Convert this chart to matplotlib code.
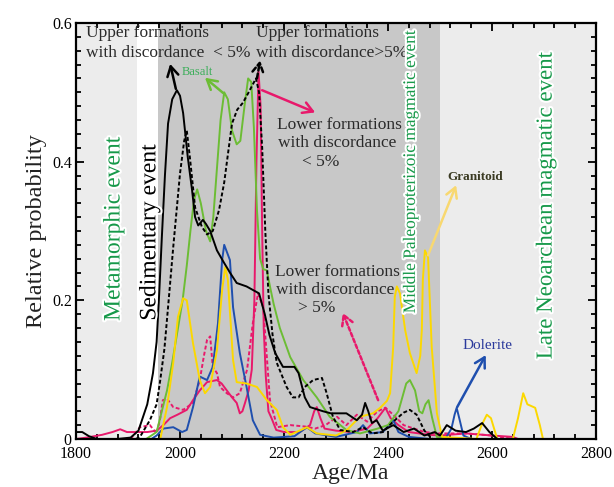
import numpy as np
import matplotlib
matplotlib.use('Agg')
import matplotlib.pyplot as plt
import matplotlib.patheffects as pe
from matplotlib.ticker import MultipleLocator

plt.rcParams['font.family'] = ['Liberation Serif', 'DejaVu Serif']

# --- data (age in Ma, relative probability)
up_lt5_age = [1800, 1812, 1825, 1840, 1880, 1905, 1920, 1937, 1948, 1955, 1960, 1965, 1971, 1977,
              1985, 1994, 2000, 2006, 2015, 2023, 2029, 2035, 2044, 2050, 2058, 2071, 2084, 2096,
              2109, 2128, 2140, 2152, 2163, 2172, 2183, 2198, 2220, 2228, 2240, 2250, 2275, 2290,
              2320, 2340, 2350, 2356, 2362, 2369, 2378, 2390, 2410, 2430, 2450, 2470, 2490, 2500,
              2513, 2530, 2550, 2565, 2581, 2595, 2610]
up_lt5_p = [0.01, 0.01, 0.004, 0.0, 0.0, 0.002, 0.012, 0.05, 0.095, 0.14, 0.21, 0.29, 0.38, 0.455,
            0.49, 0.503, 0.495, 0.47, 0.406, 0.36, 0.32, 0.308, 0.316, 0.31, 0.3, 0.272, 0.255, 0.24,
            0.225, 0.22, 0.215, 0.21, 0.18, 0.15, 0.124, 0.104, 0.104, 0.095, 0.06, 0.046, 0.04, 0.037,
            0.037, 0.027, 0.035, 0.052, 0.04, 0.023, 0.027, 0.012, 0.02, 0.01, 0.015, 0.005, 0.01, 0.005,
            0.02, 0.012, 0.01, 0.015, 0.023, 0.01, 0.0]

up_gt5_age = [1915, 1923, 1942, 1955, 1962, 1970, 1977, 1987, 2000, 2008, 2013, 2019, 2029, 2042,
              2052, 2063, 2075, 2085, 2092, 2100, 2110, 2121, 2132, 2146, 2152, 2158, 2164, 2170,
              2178, 2186, 2205, 2217, 2228, 2240, 2256, 2273, 2282, 2294, 2308, 2333, 2352, 2370,
              2390, 2410, 2430, 2442, 2455, 2470, 2485]
up_gt5_p = [0.0, 0.003, 0.027, 0.05, 0.085, 0.13, 0.19, 0.277, 0.383, 0.43, 0.445, 0.406, 0.334, 0.306,
            0.295, 0.3, 0.33, 0.37, 0.41, 0.455, 0.475, 0.485, 0.5, 0.52, 0.5, 0.42, 0.3, 0.21,
            0.15, 0.11, 0.075, 0.06, 0.06, 0.075, 0.085, 0.088, 0.066, 0.032, 0.013, 0.01, 0.017, 0.008,
            0.01, 0.025, 0.038, 0.042, 0.035, 0.012, 0.0]

basalt_age = [1935, 1955, 1965, 1975, 1985, 1995, 2005, 2013, 2020, 2027, 2033, 2040, 2050, 2058,
              2064, 2071, 2078, 2085, 2092, 2100, 2109, 2116, 2124, 2131, 2137, 2142, 2148, 2154,
              2160, 2167, 2173, 2180, 2192, 2212, 2237, 2263, 2288, 2320, 2346, 2380, 2400, 2420,
              2435, 2442, 2452, 2460, 2466, 2472, 2478, 2485, 2494, 2520]
basalt_p = [0.0, 0.01, 0.04, 0.07, 0.11, 0.155, 0.2, 0.25, 0.3, 0.345, 0.36, 0.34, 0.3, 0.285,
            0.32, 0.39, 0.46, 0.5, 0.49, 0.445, 0.425, 0.43, 0.48, 0.52, 0.515, 0.45, 0.33, 0.26,
            0.245, 0.243, 0.22, 0.195, 0.16, 0.118, 0.085, 0.06, 0.032, 0.013, 0.008, 0.015, 0.02, 0.04,
            0.08, 0.085, 0.07, 0.04, 0.037, 0.05, 0.056, 0.03, 0.003, 0.0]

lo_lt5_age = [1800, 1820, 1850, 1870, 1885, 1898, 1915, 1937, 1955, 1968, 1981, 1995, 2013, 2025,
              2038, 2052, 2071, 2080, 2090, 2100, 2109, 2115, 2120, 2125, 2132, 2138, 2143, 2147,
              2151, 2155, 2158, 2161, 2165, 2170, 2176, 2185, 2200, 2230, 2250, 2258, 2263, 2270,
              2278, 2300, 2330, 2360, 2380, 2395, 2405, 2420, 2440, 2460, 2480, 2500, 2550, 2600,
              2640, 2650]
lo_lt5_p = [0.0, 0.002, 0.006, 0.01, 0.014, 0.01, 0.01, 0.01, 0.012, 0.02, 0.03, 0.035, 0.042, 0.056,
            0.07, 0.082, 0.085, 0.08, 0.07, 0.06, 0.052, 0.037, 0.04, 0.052, 0.07, 0.1, 0.2, 0.4,
            0.53, 0.48, 0.3, 0.16, 0.09, 0.04, 0.03, 0.013, 0.01, 0.01, 0.02, 0.04, 0.046, 0.03,
            0.015, 0.012, 0.01, 0.015, 0.03, 0.045, 0.03, 0.02, 0.01, 0.008, 0.006, 0.005, 0.008, 0.005,
            0.003, 0.0]

lo_gt5_age = [1905, 1923, 1942, 1955, 1962, 1967, 1975, 1987, 2006, 2025, 2038, 2046, 2052, 2058,
              2063, 2071, 2077, 2090, 2102, 2115, 2129, 2140, 2150, 2160, 2167, 2173, 2187, 2212,
              2240, 2260, 2280, 2302, 2320, 2340, 2360, 2380, 2395, 2410, 2430, 2450, 2470, 2500,
              2550, 2600, 2640]
lo_gt5_p = [0.0, 0.017, 0.02, 0.008, 0.03, 0.056, 0.058, 0.046, 0.042, 0.052, 0.085, 0.12, 0.143, 0.148,
            0.104, 0.095, 0.075, 0.066, 0.06, 0.066, 0.1, 0.167, 0.21, 0.19, 0.118, 0.056, 0.017, 0.02,
            0.018, 0.015, 0.02, 0.032, 0.02, 0.035, 0.025, 0.04, 0.045, 0.035, 0.02, 0.015, 0.01, 0.008,
            0.008, 0.005, 0.0]

dolerite_age = [1945, 1955, 1968, 1987, 2004, 2013, 2025, 2038, 2052, 2063, 2073, 2081, 2085, 2090,
                2096, 2102, 2115, 2128, 2140, 2154, 2180, 2220, 2244, 2260, 2300, 2340, 2352, 2365,
                2390, 2410, 2420, 2440, 2480, 2510, 2522, 2528, 2532, 2537, 2545, 2560]
dolerite_p = [0.0, 0.005, 0.015, 0.017, 0.01, 0.013, 0.046, 0.09, 0.085, 0.104, 0.167, 0.258, 0.28, 0.27,
              0.258, 0.19, 0.124, 0.075, 0.027, 0.006, 0.002, 0.004, 0.017, 0.008, 0.003, 0.01, 0.02, 0.008,
              0.01, 0.027, 0.01, 0.003, 0.0, 0.0, 0.015, 0.035, 0.045, 0.03, 0.005, 0.0]

granitoid_age = [1945, 1962, 1975, 1987, 1996, 2006, 2013, 2025, 2038, 2048, 2058, 2071, 2081, 2087,
                 2092, 2102, 2109, 2128, 2148, 2167, 2186, 2198, 2212, 2244, 2263, 2300, 2321, 2346,
                 2371, 2385, 2398, 2404, 2410, 2413, 2417, 2423, 2433, 2442, 2455, 2462, 2465, 2467,
                 2471, 2477, 2484, 2494, 2504, 2570, 2580, 2590, 2598, 2610, 2640, 2650, 2660, 2668,
                 2683, 2692, 2698]
granitoid_p = [0.0, 0.0, 0.046, 0.11, 0.176, 0.203, 0.2, 0.138, 0.085, 0.066, 0.075, 0.128, 0.215, 0.248,
               0.23, 0.114, 0.082, 0.08, 0.075, 0.056, 0.042, 0.017, 0.006, 0.017, 0.008, 0.005, 0.013, 0.032,
               0.037, 0.045, 0.055, 0.066, 0.133, 0.205, 0.22, 0.21, 0.157, 0.124, 0.095, 0.12, 0.157, 0.23,
               0.272, 0.262, 0.133, 0.037, 0.003, 0.0, 0.02, 0.035, 0.03, 0.0, 0.0, 0.03, 0.066, 0.05,
               0.045, 0.02, 0.0]

# annotation text lines: (age, prob, text)
note_lines = [(1819, 0.585, 'Upper formations'),
              (1819, 0.5562, 'with discordance  < 5%'),
              (2146, 0.585, 'Upper formations'),
              (2146, 0.5562, 'with discordance>5%'),
              (2187, 0.4524, 'Lower formations'),
              (2189, 0.4265, 'with discordance'),
              (2235, 0.3991, '< 5%'),
              (2183, 0.2406, 'Lower formations'),
              (2185, 0.2147, 'with discordance'),
              (2227, 0.1887, '> 5%')]

GREEN = '#6cbd34'
PINK = '#e8196b'
BLUE = '#1f4fae'
YELLOW = '#fcd800'
TXTGREEN = '#17994a'

fig = plt.figure(figsize=(6.14, 4.87), dpi=100)
ax = fig.add_axes([0.1238, 0.0986, 0.8469, 0.8542])

# event shading
ax.axvspan(1800, 1917, color='#ececec', lw=0, zorder=0)
ax.axvspan(1958, 2500, color='#c8c8c8', lw=0, zorder=0)
ax.axvspan(2500, 2800, color='#ececec', lw=0, zorder=0)

lw = 1.4
ax.plot(lo_gt5_age, lo_gt5_p, color=PINK, lw=lw, ls=(0, (2, 1.2)))
ax.plot(lo_lt5_age, lo_lt5_p, color=PINK, lw=lw)
ax.plot(dolerite_age, dolerite_p, color=BLUE, lw=lw)
ax.plot(basalt_age, basalt_p, color=GREEN, lw=lw)
ax.plot(granitoid_age, granitoid_p, color=YELLOW, lw=lw)
ax.plot(up_gt5_age, up_gt5_p, color='black', lw=lw, ls=(0, (2, 1.2)))
ax.plot(up_lt5_age, up_lt5_p, color='black', lw=lw)

def arrow(x0, y0, x1, y1, c, ls='-'):
    ax.annotate('', xy=(x1, y1), xytext=(x0, y0),
                arrowprops=dict(arrowstyle='->,head_width=0.4,head_length=0.7',
                                color=c, lw=1.8, ls=ls, shrinkA=0, shrinkB=0))

arrow(1992, 0.505, 1981, 0.541, 'black')
arrow(2148, 0.52, 2154, 0.546, 'black', ls=(0, (2, 1.2)))
arrow(2083, 0.499, 2048, 0.521, GREEN)
arrow(2158, 0.503, 2260, 0.471, PINK)
arrow(2381, 0.056, 2313, 0.182, PINK, ls=(0, (1.5, 1)))
arrow(2477, 0.265, 2531, 0.366, '#f8d870')
arrow(2533, 0.046, 2588, 0.121, BLUE)

tc = '#2a2a2a'
for x, y, s in note_lines:
    ax.text(x, y, s, fontsize=12.5, color=tc, va='center', ha='left')

ax.text(2033, 0.529, 'Basalt', fontsize=9, color='#3cae5a', ha='center', va='center')
ax.text(2515, 0.378, 'Granitoid', fontsize=9.5, color='#3a3a22', ha='left', va='center',
        fontweight='bold')
ax.text(2544, 0.135, 'Dolerite', fontsize=11, color='#2b3a9c', ha='left', va='center')

halo = [pe.withStroke(linewidth=3, foreground='white')]
ax.text(1873, 0.303, 'Metamorphic event', rotation=90, fontsize=17, color=TXTGREEN,
        ha='center', va='center', path_effects=halo)
ax.text(1942, 0.298, 'Sedimentary event', rotation=90, fontsize=17, color='black',
        ha='center', va='center', path_effects=halo)
ax.text(2444, 0.386, 'Middle Paleoproterizoic magmatic event', rotation=90, fontsize=12.5,
        color=TXTGREEN, ha='center', va='center', path_effects=halo)
ax.text(2704, 0.336, 'Late Neoarchean magmatic event', rotation=90, fontsize=16.5,
        color=TXTGREEN, ha='center', va='center', path_effects=halo)

ax.set_xlim(1800, 2800)
ax.set_ylim(0, 0.6)
ax.xaxis.set_major_locator(MultipleLocator(200))
ax.xaxis.set_minor_locator(MultipleLocator(40))
ax.yaxis.set_major_locator(MultipleLocator(0.2))
ax.yaxis.set_minor_locator(MultipleLocator(0.02))
ax.set_yticks([0, 0.2, 0.4, 0.6])
ax.set_yticklabels(['0', '0.2', '0.4', '0.6'])
ax.tick_params(which='both', direction='in', top=True, right=True, labelsize=11.5,
               colors='black', width=1.3)
ax.tick_params(which='major', length=6)
ax.tick_params(axis='x', which='major', pad=5)
ax.tick_params(axis='y', which='major', pad=3)
ax.tick_params(which='minor', length=3.5)
for s in ax.spines.values():
    s.set_linewidth(1.6)

ax.set_ylabel('Relative probability', fontsize=17.5, color='#222222')
ax.yaxis.set_label_coords(-0.055, 0.5)
ax.set_xlabel('Age/Ma', fontsize=17, color='#222222')
ax.xaxis.set_label_coords((350 - 76) / 520, -0.058)

fig.savefig('out.png', dpi=100)
